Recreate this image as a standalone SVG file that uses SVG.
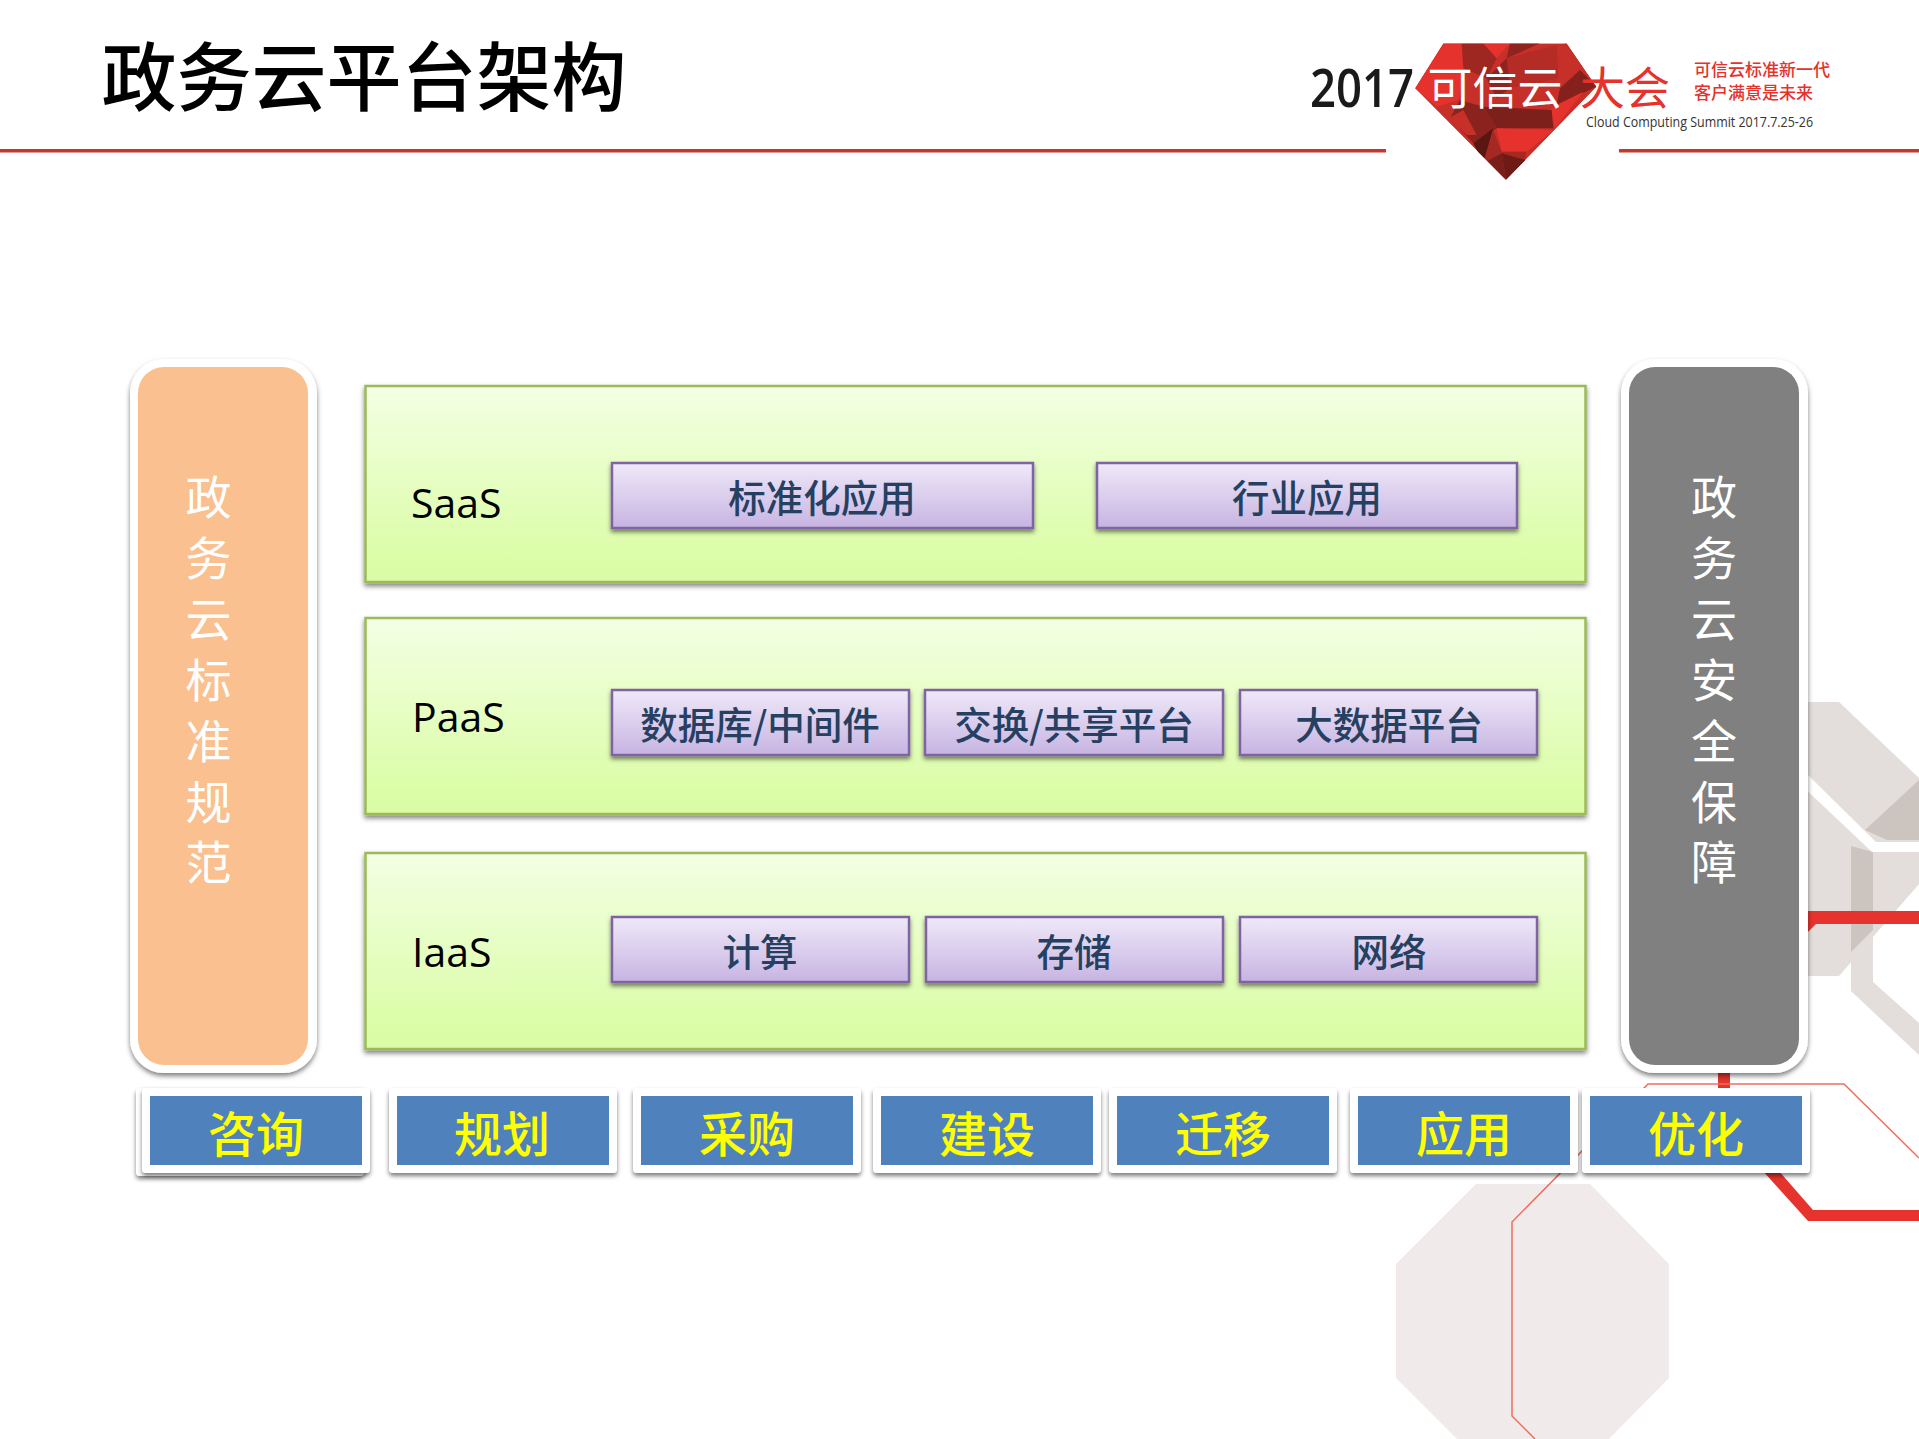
<svg xmlns="http://www.w3.org/2000/svg" width="1919" height="1439" viewBox="0 0 1919 1439">
<defs>
<linearGradient id="gGreen" x1="0" y1="0" x2="0" y2="1"><stop offset="0" stop-color="#f3ffe4"/><stop offset="0.85" stop-color="#dcfda9"/><stop offset="1" stop-color="#dafca5"/></linearGradient>
<linearGradient id="gPurple" x1="0" y1="0" x2="0" y2="1"><stop offset="0" stop-color="#efe9f9"/><stop offset="1" stop-color="#c7b4e2"/></linearGradient>
<filter id="sh" x="-5%" y="-5%" width="110%" height="115%"><feDropShadow dx="0" dy="3" stdDeviation="2.5" flood-color="#000" flood-opacity="0.5"/></filter>
<filter id="shP" x="-5%" y="-10%" width="110%" height="125%"><feDropShadow dx="0" dy="3" stdDeviation="2" flood-color="#000" flood-opacity="0.5"/></filter>
<clipPath id="gem"><polygon points="130,25 500,25 590,155 318,435 45,160"/></clipPath>
</defs>
<style>
text{font-family:"Noto Sans CJK SC","Noto Sans",sans-serif;text-anchor:middle}
.layer{fill:url(#gGreen);stroke:#9bbb59;stroke-width:2.5;filter:url(#sh)}
.mod{fill:url(#gPurple);stroke:#8064a2;stroke-width:2.5;filter:url(#shP)}
.modt{font-size:37.500px;fill:#254061;font-weight:500}
.lab{font-family:"Open Sans","Noto Sans",sans-serif;font-size:41px;fill:#000;text-anchor:start}
.frame{fill:#fff;filter:url(#shP)}
.blue{fill:#4f81bd}
.step{font-size:48px;fill:#ffff00;font-weight:500}
.side{font-size:46px;fill:#fff;font-weight:400}
.red{fill:#e6332d}
.ln{fill:none;stroke:#ec6f60;stroke-width:1.5}
.hex{fill:#e3dedb}
.hexd{fill:#ccc4bf}
</style>
<rect width="1919" height="1439" fill="#fff"/>
<g id="background">
<polygon points="1396,1264 1476,1184 1590,1184 1669,1264 1669,1378 1609,1439 1457,1439 1396,1378" fill="#f0ebea"/>
<polygon class="hex" points="1800,702 1839,702 1919,778 1919,884 1839,976 1800,976"/>
<polygon points="1800,768 1808,775 1876,842 1919,842 1919,852 1872,852 1800,784" fill="#fff"/>
<polygon class="hexd" points="1865,830 1919,780 1919,840 1887,840"/>
<polygon class="hex" points="1851,950 1851,991 1919,1055 1919,1023 1873,982 1873,930"/>
<polygon class="hexd" points="1851,846 1873,852 1873,930 1851,952"/>
<polygon class="red" points="1800,911 1919,911 1919,924 1816,924 1800,940"/>
<rect class="red" x="1718" y="1070" width="12" height="20"/>
<polyline class="ln" points="1919,1158 1844,1084 1648,1084 1512,1222 1512,1416 1535,1439"/>
<polygon class="red" points="1762,1170 1778,1170 1813,1210 1919,1210 1919,1221 1808,1221"/>
</g>
<g id="header">
<text x="364" y="105" style="font-size:75px;fill:#000;font-weight:500">政务云平台架构</text>
<rect x="0" y="149" width="1386" height="3.5" fill="#c5392c"/>
<rect x="1619" y="149" width="300" height="3.5" fill="#c5392c"/>
</g>
<g id="logo">
<g transform="translate(1400 35) scale(.3333)" clip-path="url(#gem)">
<polygon points="130,25 500,25 590,155 318,435 45,160" fill="#c72f29"/>
<polygon points="45,160 130,25 185,25 195,100 175,195 110,215" fill="#e6322c"/>
<polygon points="185,25 250,25 290,70 260,130 190,100" fill="#9e2722"/>
<polygon points="250,25 330,25 290,70" fill="#e6322c"/>
<polygon points="330,25 420,25 320,70" fill="#8f231f"/>
<polygon points="320,70 470,30 475,130 330,160" fill="#b52b25"/>
<polygon points="260,130 320,70 330,160 290,190" fill="#8f231f"/>
<polygon points="470,30 500,25 550,100 490,135" fill="#c72f29"/>
<polygon points="540,105 590,155 470,210 480,160" fill="#85211c"/>
<polygon points="470,210 550,170 465,280 450,225" fill="#e6322c"/>
<polygon points="250,215 455,225 460,280 290,280" fill="#7d1f1b"/>
<polygon points="290,280 462,285 380,350 305,350" fill="#e6322c"/>
<polygon points="180,195 250,215 290,280 220,325 150,250" fill="#8a221d"/>
<polygon points="145,250 190,225 230,300 200,300" fill="#c72f29"/>
<polygon points="220,325 280,280 250,385" fill="#5a1610"/>
<polygon points="280,285 305,350 378,350 375,375 305,355 250,385" fill="#a52822"/>
<polygon points="250,385 305,355 318,435" fill="#7a1e19"/>
<polygon points="305,355 378,375 318,435" fill="#6e1b17"/>
</g>
<text x="1310" y="107" textLength="104" lengthAdjust="spacingAndGlyphs" style="font-family:'Open Sans',sans-serif;font-size:53px;font-weight:600;fill:#1a1a1a;text-anchor:start">2017</text>
<text x="1495" y="105" style="font-size:45px;fill:#fff">可信云</text>
<text x="1625" y="105" style="font-size:45px;fill:#e6312c">大会</text>
<text x="1694" y="76" style="font-size:17px;fill:#e6312c;text-anchor:start;font-weight:500">可信云标准新一代</text>
<text x="1694" y="99" style="font-size:17px;fill:#e6312c;text-anchor:start;font-weight:500">客户满意是未来</text>
<text x="1586" y="127" textLength="227" lengthAdjust="spacingAndGlyphs" style="font-family:'Open Sans',sans-serif;font-size:14.5px;fill:#333;text-anchor:start">Cloud Computing Summit 2017.7.25-26</text>
</g>
<g id="standards">
<rect x="130" y="359" width="187" height="714" rx="34" fill="#fff" filter="url(#sh)"/>
<rect x="138" y="367" width="170" height="698" rx="26" fill="#fac090"/>
<text class="side" x="208.500" y="514">政</text><text class="side" x="208.500" y="575">务</text><text class="side" x="208.500" y="636">云</text><text class="side" x="208.500" y="697">标</text><text class="side" x="208.500" y="758">准</text><text class="side" x="208.500" y="819">规</text><text class="side" x="208.500" y="879">范</text>
</g>
<g id="security">
<rect x="1621" y="359" width="187" height="714" rx="34" fill="#fff" filter="url(#sh)"/>
<rect x="1629" y="367" width="170" height="698" rx="26" fill="#808080"/>
<text class="side" x="1714" y="514">政</text><text class="side" x="1714" y="575">务</text><text class="side" x="1714" y="636">云</text><text class="side" x="1714" y="697">安</text><text class="side" x="1714" y="758">全</text><text class="side" x="1714" y="819">保</text><text class="side" x="1714" y="879">障</text>
</g>
<g id="saas">
<rect class="layer" x="365.500" y="386" width="1220" height="196"/>
<text class="lab" x="411" y="518">SaaS</text>
</g>
<g id="saas-standard"><rect class="mod" x="612" y="463" width="421" height="65"/><text class="modt" x="822" y="512">标准化应用</text></g>
<g id="saas-industry"><rect class="mod" x="1097" y="463" width="420" height="65"/><text class="modt" x="1307" y="512">行业应用</text></g>
<g id="paas">
<rect class="layer" x="365.500" y="618" width="1220" height="196"/>
<text class="lab" x="412" y="732">PaaS</text>
</g>
<g id="paas-db"><rect class="mod" x="612" y="690" width="297" height="65"/><text class="modt" x="760" y="739">数据库/中间件</text></g>
<g id="paas-exchange"><rect class="mod" x="925" y="690" width="298" height="65"/><text class="modt" x="1074" y="739">交换/共享平台</text></g>
<g id="paas-bigdata"><rect class="mod" x="1240" y="690" width="297" height="65"/><text class="modt" x="1389" y="739">大数据平台</text></g>
<g id="iaas">
<rect class="layer" x="365.500" y="853" width="1220" height="196"/>
<text class="lab" x="412" y="967">IaaS</text>
</g>
<g id="iaas-compute"><rect class="mod" x="612" y="917" width="297" height="65"/><text class="modt" x="760" y="966">计算</text></g>
<g id="iaas-storage"><rect class="mod" x="926" y="917" width="297" height="65"/><text class="modt" x="1074" y="966">存储</text></g>
<g id="iaas-network"><rect class="mod" x="1240" y="917" width="297" height="65"/><text class="modt" x="1389" y="966">网络</text></g>
<g id="step-consult"><rect class="frame" x="136" y="1088" width="228" height="88" rx="4"/><rect class="frame" x="142" y="1088" width="228" height="85" rx="4"/><rect class="blue" x="150" y="1096" width="212" height="69"/><text class="step" x="256" y="1152">咨询</text></g>
<g id="step-plan"><rect class="frame" x="389" y="1088" width="228" height="85" rx="4"/><rect class="blue" x="397" y="1096" width="212" height="69"/><text class="step" x="502" y="1152">规划</text></g>
<g id="step-purchase"><rect class="frame" x="633" y="1088" width="228" height="85" rx="4"/><rect class="blue" x="641" y="1096" width="212" height="69"/><text class="step" x="747" y="1152">采购</text></g>
<g id="step-build"><rect class="frame" x="873" y="1088" width="228" height="85" rx="4"/><rect class="blue" x="881" y="1096" width="212" height="69"/><text class="step" x="987" y="1152">建设</text></g>
<g id="step-migrate"><rect class="frame" x="1109" y="1088" width="228" height="85" rx="4"/><rect class="blue" x="1117" y="1096" width="212" height="69"/><text class="step" x="1223" y="1152">迁移</text></g>
<g id="step-apply"><rect class="frame" x="1350" y="1088" width="228" height="85" rx="4"/><rect class="blue" x="1358" y="1096" width="212" height="69"/><text class="step" x="1464" y="1152">应用</text></g>
<g id="step-optimize"><rect class="frame" x="1582" y="1088" width="228" height="85" rx="4"/><rect class="blue" x="1590" y="1096" width="212" height="69"/><text class="step" x="1696" y="1152">优化</text></g>
</svg>
